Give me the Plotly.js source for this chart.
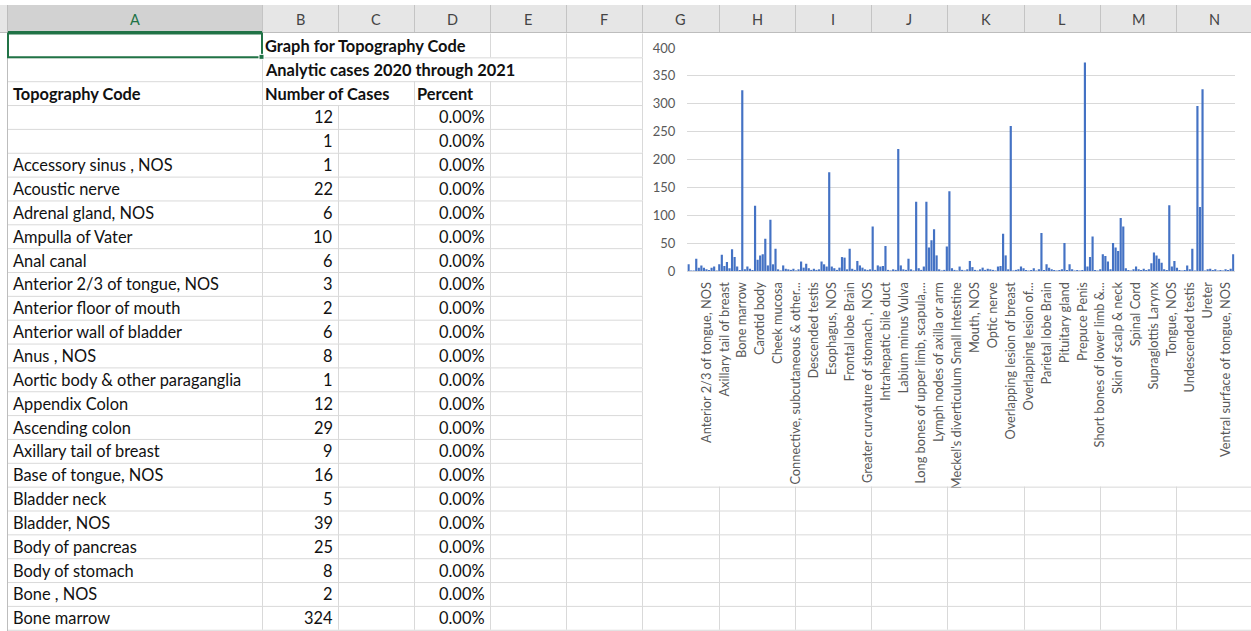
<!DOCTYPE html>
<html><head><meta charset="utf-8">
<script src="https://cdn.plot.ly/plotly-3.0.1.min.js"></script>
<style>html,body{margin:0;padding:0;background:#fff;overflow:hidden}#chart{width:1251px;height:631px}</style>
</head><body><div id="chart"></div>
<script>
// ---------- data ----------
const columnLetters = ["A","B","C","D","E","F","G","H","I","J","K","L","M","N"];
const sheetTitle = "Graph for Topography Code";
const sheetSubtitle = "Analytic cases 2020 through 2021";
const headerTopography = "Topography Code";
const headerCases = "Number of Cases";
const headerPercent = "Percent";

const topographyCodes = ["", "", "Accessory sinus , NOS", "Acoustic nerve", "Adrenal gland, NOS",
  "Ampulla of Vater", "Anal canal", "Anterior 2/3 of tongue, NOS", "Anterior floor of mouth",
  "Anterior wall of bladder", "Anus , NOS", "Aortic body & other paraganglia", "Appendix Colon",
  "Ascending colon", "Axillary tail of breast", "Base of tongue, NOS", "Bladder neck", "Bladder, NOS",
  "Body of pancreas", "Body of stomach", "Bone , NOS", "Bone marrow"];

const percentShown = [0,0,0,0,0,0,0,0,0,0,0,0,0,0,0,0,0,0,0,0,0,0];

// number of cases per topography code (chart series, alphabetical order)
const cases = [
  12,1,1,22,6,10,6,3,2,6,8,1,12,29,9,16,5,39,25,8,2,324,
  3,8,4,2,117,20,28,30,58,10,92,12,40,3,1,10,4,3,2,4,
  1,3,17,6,13,5,2,4,2,3,17,12,8,177,8,5,2,6,25,24,
  3,40,4,2,18,10,6,3,2,3,80,2,10,8,9,45,2,1,3,2,
  219,10,3,2,22,3,1,124,5,2,8,124,42,55,75,28,3,1,2,44,
  143,5,2,1,8,2,1,3,18,7,2,1,3,6,2,4,3,2,1,8,
  9,67,28,3,260,1,2,3,8,5,2,1,2,5,1,3,68,2,12,6,
  3,2,1,2,3,50,2,12,3,1,2,1,2,374,8,25,62,2,1,3,
  30,27,17,3,50,42,36,95,80,5,2,1,3,8,3,2,4,2,3,14,
  33,28,22,15,3,2,118,8,18,6,2,1,2,10,3,40,1,296,115,326,
  1,3,4,2,3,1,2,1,3,2,4,30];

// category labels shown on the axis (every 7th category)
const tickLabels = ["", "Anterior 2/3 of tongue, NOS", "Axillary tail of breast", "Bone marrow",
  "Carotid body", "Cheek mucosa", "Connective, subcutaneous & other...", "Descended testis",
  "Esophagus, NOS", "Frontal lobe Brain", "Greater curvature of stomach , NOS", "Intrahepatic bile duct",
  "Labium minus Vulva", "Long bones of upper limb, scapula,...", "Lymph nodes of axilla or arm",
  "Meckel's diverticulum Small Intestine", "Mouth, NOS", "Optic nerve", "Overlapping lesion of breast",
  "Overlapping lesion of...", "Parietal lobe Brain", "Pituitary gland", "Prepuce Penis",
  "Short bones of lower limb &...", "Skin of scalp & neck", "Spinal Cord", "Supraglottis Larynx",
  "Tongue, NOS", "Undescended testis", "Ureter", "Ventral surface of tongue, NOS"];
const tickStep = 7;

// ---------- layout helpers ----------
const W = 1251, H = 631;
const X = p => p / W;
const Y = p => 1 - p / H;
const FONT = "Lato, 'Open Sans', sans-serif";
const colEdges = [8, 262, 338, 414, 490, 566, 642, 719, 795, 871, 947, 1024, 1100, 1176, 1252];
const rowH = 23.85, gridTop = 33.5;
const rowTop = k => gridTop + k * rowH;
const chartRight = 642, chartBottomRow = 19;
const gridColor = "#d9d9d9";
const CELL_FONT = 16.4;

const shapes = [];
const annotations = [];
function line(x0, y0, x1, y1, color, width) {
  shapes.push({type: "line", xref: "paper", yref: "paper", x0: X(x0), y0: Y(y0), x1: X(x1), y1: Y(y1),
    line: {color: color, width: width || 1}});
}
function rect(x0, y0, x1, y1, fill, lineColor, lw) {
  shapes.push({type: "rect", xref: "paper", yref: "paper", x0: X(x0), y0: Y(y0), x1: X(x1), y1: Y(y1),
    fillcolor: fill, line: {color: lineColor || "rgba(0,0,0,0)", width: lw || 0}});
}
function text(x, y, str, anchor, bold, size, color) {
  annotations.push({xref: "paper", yref: "paper", x: X(x), y: Y(y), text: bold ? "<b>" + str + "</b>" : str,
    showarrow: false, xanchor: anchor, yanchor: "middle", borderpad: 0,
    font: {family: FONT, size: size || CELL_FONT, color: color || "#111"}});
}

// header band
rect(0, 5, W, 32.5, "#e6e6e6");
rect(colEdges[0], 5, colEdges[1], 32.5, "#d2d2d2");
for (let i = 1; i < colEdges.length - 1; i++) line(colEdges[i] + 0.5, 5, colEdges[i] + 0.5, 32.5, "#c4c4c4", 1);
line(0, 32.5, W, 32.5, "#bdbdbd", 1);
line(colEdges[0], 32, colEdges[1], 32, "#217346", 2);
columnLetters.forEach((c, i) => {
  text((colEdges[i] + colEdges[i + 1]) / 2, 19, c, "center", false, 14.5, i === 0 ? "#217346" : "#444444");
});
// row header edge
line(7.5, 5, 7.5, H, "#bdbdbd", 1);

// horizontal grid lines
for (let k = 1; k <= 25; k++) {
  const y = rowTop(k) + 0.5;
  line(colEdges[0], y, k < chartBottomRow ? chartRight : W, y, gridColor, 1);
}
// vertical grid lines (hidden where text overflows or under the chart)
const hidden = {338: [0, 1, 2], 414: [0, 1], 490: [1]};
for (let i = 1; i < colEdges.length - 1; i++) {
  const e = colEdges[i];
  const startRow = e > chartRight ? chartBottomRow : 0;
  for (let r = startRow; r < 25; r++) {
    if (hidden[e] && hidden[e].includes(r)) continue;
    line(e + 0.5, rowTop(r), e + 0.5, Math.min(rowTop(r + 1), H), gridColor, 1);
  }
}

// cells text
const rowMid = k => rowTop(k) + rowH / 2;
text(colEdges[1] + 2, rowMid(0), sheetTitle, "left", true);
text(colEdges[1] + 2, rowMid(1), sheetSubtitle, "left", true);
text(colEdges[0] + 4, rowMid(2), headerTopography, "left", true);
text(colEdges[1] + 2, rowMid(2), headerCases, "left", true);
text(colEdges[3] + 2, rowMid(2), headerPercent, "left", true);
topographyCodes.forEach((name, i) => {
  const r = i + 3;
  if (name) text(colEdges[0] + 4, rowMid(r), name, "left", false);
  text(colEdges[2] - 4, rowMid(r), String(cases[i]), "right", false);
  text(colEdges[4] - 4, rowMid(r), percentShown[i].toFixed(2) + "%", "right", false);
});

// selected cell A1
rect(colEdges[0], rowTop(0), colEdges[1], rowTop(1), "rgba(0,0,0,0)", "#217346", 2);
rect(colEdges[1] - 3, rowTop(1) - 3, colEdges[1] + 2, rowTop(1) + 2, "#217346", "#ffffff", 1);

// ---------- chart ----------
const idx = cases.map((_, i) => i);
const tickVals = tickLabels.map((_, i) => i * tickStep);

const trace = {
  type: "bar", x: idx, y: cases,
  marker: {color: "#4472C4", line: {width: 0}},
  hoverinfo: "skip"
};

const layout = {
  width: W, height: H,
  margin: {l: 0, r: 0, t: 0, b: 0},
  paper_bgcolor: "#ffffff", plot_bgcolor: "rgba(0,0,0,0)",
  showlegend: false,
  bargap: 0.15,
  xaxis: {
    domain: [X(687.3), X(1234.5)],
    range: [-0.5, cases.length - 0.5],
    tickmode: "array", tickvals: tickVals, ticktext: tickLabels,
    tickangle: -90, ticks: "", ticklabelstandoff: 5,
    tickfont: {family: FONT, size: 12.8, color: "#595959"},
    showgrid: false, zeroline: false, showline: true, linecolor: "#d9d9d9", linewidth: 1,
    fixedrange: true
  },
  yaxis: {
    domain: [Y(271), Y(48)],
    range: [0, 400], dtick: 50, tick0: 0,
    ticks: "", ticklabelstandoff: 11,
    tickfont: {family: FONT, size: 13, color: "#595959"},
    showgrid: true, gridcolor: "#d9d9d9", gridwidth: 1,
    zeroline: false, showline: false, fixedrange: true
  },
  shapes: shapes,
  annotations: annotations
};

Plotly.newPlot("chart", [trace], layout, {staticPlot: true, displayModeBar: false});
</script>
</body></html>
